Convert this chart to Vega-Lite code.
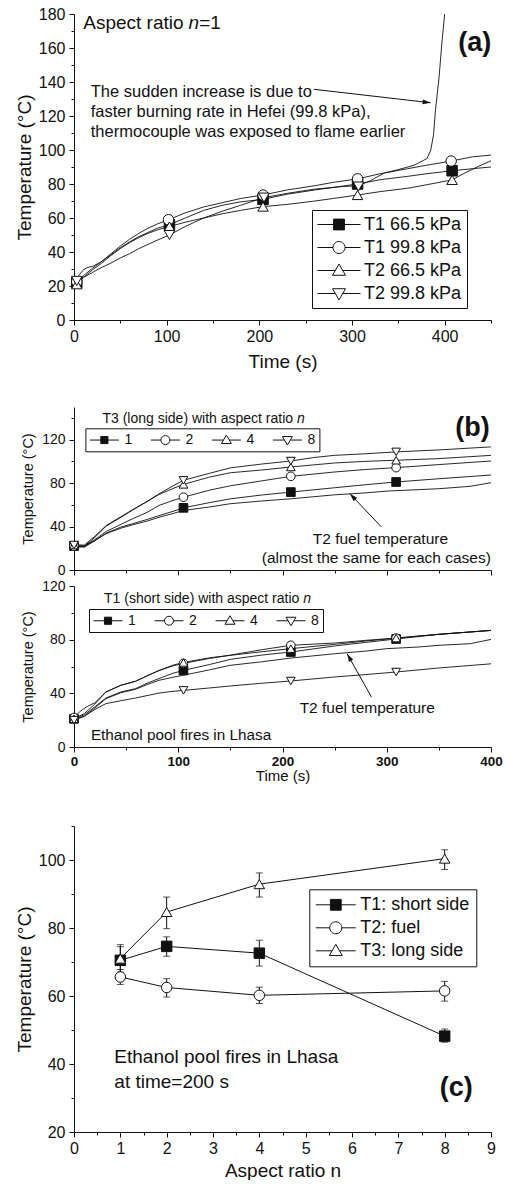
{
  "$schema": "https://vega.github.io/schema/vega-lite/v6.json",
  "padding": {"left": 15, "top": 6, "right": 5, "bottom": 0},
  "spacing": 2,
  "resolve": {"scale": {"shape": "independent", "fill": "independent"}, "legend": {"shape": "independent", "fill": "independent"}},
  "config": {
    "font": "Liberation Sans",
    "view": {"stroke": null},
    "axis": {"domainColor": "#111", "tickColor": "#111", "labelColor": "#111", "titleColor": "#111", "titleFontWeight": "normal", "grid": false, "labelOverlap": false, "labelFlush": false, "domainWidth": 1, "tickWidth": 1, "tickCount": 50},
    "legend": {"labelColor": "#111", "strokeColor": "#111", "cornerRadius": 0},
    "text": {"color": "#111"},
    "line": {"color": "#111", "strokeWidth": 0.9}
  },
  "datasets": {
    "a_lines": [
      {"s":"A","t":0,"T":21},{"s":"A","t":5,"T":23},{"s":"A","t":10,"T":26},{"s":"A","t":20,"T":30.5},{"s":"A","t":30,"T":34.5},{"s":"A","t":40,"T":38.5},{"s":"A","t":50,"T":42.5},{"s":"A","t":60,"T":46},{"s":"A","t":70,"T":49},{"s":"A","t":80,"T":51.5},{"s":"A","t":90,"T":54},{"s":"A","t":103,"T":56},{"s":"A","t":120,"T":60},{"s":"A","t":140,"T":64.5},{"s":"A","t":160,"T":67.5},{"s":"A","t":180,"T":69.5},{"s":"A","t":204,"T":71},{"s":"A","t":230,"T":74},{"s":"A","t":260,"T":76.5},{"s":"A","t":280,"T":78},{"s":"A","t":306,"T":80},{"s":"A","t":330,"T":82.5},{"s":"A","t":360,"T":84.5},{"s":"A","t":380,"T":86},{"s":"A","t":408,"T":87.8},{"s":"A","t":430,"T":89},{"s":"A","t":450,"T":90},
      {"s":"B","t":0,"T":22},{"s":"B","t":5,"T":26},{"s":"B","t":10,"T":29.5},{"s":"B","t":15,"T":31},{"s":"B","t":20,"T":31.5},{"s":"B","t":30,"T":34.5},{"s":"B","t":40,"T":39},{"s":"B","t":50,"T":43.5},{"s":"B","t":60,"T":47.5},{"s":"B","t":70,"T":51},{"s":"B","t":80,"T":54},{"s":"B","t":90,"T":56.5},{"s":"B","t":102,"T":59},{"s":"B","t":120,"T":63},{"s":"B","t":140,"T":66.5},{"s":"B","t":160,"T":69},{"s":"B","t":180,"T":71.5},{"s":"B","t":204,"T":73.5},{"s":"B","t":230,"T":76.5},{"s":"B","t":260,"T":79},{"s":"B","t":280,"T":81},{"s":"B","t":306,"T":83},{"s":"B","t":330,"T":86},{"s":"B","t":360,"T":89},{"s":"B","t":380,"T":91},{"s":"B","t":407,"T":93.5},{"s":"B","t":430,"T":96},{"s":"B","t":450,"T":97},
      {"s":"C","t":0,"T":20},{"s":"C","t":10,"T":25},{"s":"C","t":20,"T":29.5},{"s":"C","t":30,"T":33.5},{"s":"C","t":40,"T":38},{"s":"C","t":50,"T":42},{"s":"C","t":60,"T":45.5},{"s":"C","t":70,"T":48.5},{"s":"C","t":80,"T":51},{"s":"C","t":90,"T":53},{"s":"C","t":103,"T":55},{"s":"C","t":120,"T":57.5},{"s":"C","t":140,"T":60},{"s":"C","t":160,"T":62.5},{"s":"C","t":180,"T":64.5},{"s":"C","t":204,"T":66.7},{"s":"C","t":230,"T":68},{"s":"C","t":260,"T":70},{"s":"C","t":280,"T":71.5},{"s":"C","t":306,"T":73.5},{"s":"C","t":330,"T":75.5},{"s":"C","t":360,"T":77.5},{"s":"C","t":380,"T":79.5},{"s":"C","t":408,"T":82.4},{"s":"C","t":420,"T":86},{"s":"C","t":435,"T":90},{"s":"C","t":450,"T":93.7},
      {"s":"D","t":0,"T":23},{"s":"D","t":10,"T":25},{"s":"D","t":20,"T":28},{"s":"D","t":30,"T":31},{"s":"D","t":40,"T":33.5},{"s":"D","t":50,"T":36.5},{"s":"D","t":60,"T":39},{"s":"D","t":70,"T":42},{"s":"D","t":80,"T":44.5},{"s":"D","t":90,"T":47},{"s":"D","t":103,"T":50},{"s":"D","t":120,"T":55},{"s":"D","t":140,"T":60},{"s":"D","t":160,"T":64},{"s":"D","t":180,"T":67.5},{"s":"D","t":205,"T":72},{"s":"D","t":230,"T":74.5},{"s":"D","t":260,"T":77},{"s":"D","t":290,"T":78.5},{"s":"D","t":307,"T":79},{"s":"D","t":320,"T":82},{"s":"D","t":335,"T":86.5},{"s":"D","t":350,"T":88.5},{"s":"D","t":367,"T":91},{"s":"D","t":381,"T":95},{"s":"D","t":385,"T":100},{"s":"D","t":388,"T":109},{"s":"D","t":390,"T":123},{"s":"D","t":394,"T":143},{"s":"D","t":397,"T":163},{"s":"D","t":400,"T":180}
    ],
    "a_pts": [
      {"s":"T1 66.5 kPa","t":3,"T":22},{"s":"T1 66.5 kPa","t":103,"T":56},{"s":"T1 66.5 kPa","t":204,"T":71},{"s":"T1 66.5 kPa","t":306,"T":80},{"s":"T1 66.5 kPa","t":408,"T":87.8},
      {"s":"T1 99.8 kPa","t":3,"T":22.5},{"s":"T1 99.8 kPa","t":102,"T":59},{"s":"T1 99.8 kPa","t":204,"T":73.5},{"s":"T1 99.8 kPa","t":306,"T":83},{"s":"T1 99.8 kPa","t":407,"T":93.5},
      {"s":"T2 66.5 kPa","t":3,"T":21},{"s":"T2 66.5 kPa","t":103,"T":55},{"s":"T2 66.5 kPa","t":204,"T":66.7},{"s":"T2 66.5 kPa","t":306,"T":73.5},{"s":"T2 66.5 kPa","t":408,"T":82.4},
      {"s":"T2 99.8 kPa","t":3,"T":23},{"s":"T2 99.8 kPa","t":103,"T":50},{"s":"T2 99.8 kPa","t":205,"T":72},{"s":"T2 99.8 kPa","t":307,"T":78.5}
    ],
    "bt_lines": [
      {"s":"1","t":0,"T":22},{"s":"1","t":10,"T":21},{"s":"1","t":20,"T":27},{"s":"1","t":31,"T":34},{"s":"1","t":45,"T":39.5},{"s":"1","t":56,"T":42.5},{"s":"1","t":70,"T":46.5},{"s":"1","t":81.5,"T":50},{"s":"1","t":95,"T":54},{"s":"1","t":105,"T":57.2},{"s":"1","t":130,"T":62},{"s":"1","t":150,"T":65.5},{"s":"1","t":180,"T":69},{"s":"1","t":208,"T":71.7},{"s":"1","t":250,"T":75.7},{"s":"1","t":280,"T":78.5},{"s":"1","t":309,"T":81},{"s":"1","t":350,"T":84},{"s":"1","t":400,"T":87.4},
      {"s":"2","t":0,"T":22},{"s":"2","t":10,"T":22},{"s":"2","t":20,"T":28},{"s":"2","t":31,"T":35.5},{"s":"2","t":45,"T":42},{"s":"2","t":56,"T":47},{"s":"2","t":70,"T":53},{"s":"2","t":81.5,"T":59.4},{"s":"2","t":95,"T":64},{"s":"2","t":105,"T":67},{"s":"2","t":130,"T":73.5},{"s":"2","t":150,"T":77.5},{"s":"2","t":180,"T":82},{"s":"2","t":208,"T":86.2},{"s":"2","t":250,"T":90.2},{"s":"2","t":280,"T":92.5},{"s":"2","t":309,"T":94.2},{"s":"2","t":350,"T":97},{"s":"2","t":400,"T":100.3},
      {"s":"4","t":0,"T":23},{"s":"4","t":10,"T":22},{"s":"4","t":20,"T":30},{"s":"4","t":31,"T":40.5},{"s":"4","t":45,"T":48.5},{"s":"4","t":56,"T":55},{"s":"4","t":70,"T":63},{"s":"4","t":81.5,"T":69.5},{"s":"4","t":95,"T":75},{"s":"4","t":105,"T":78.8},{"s":"4","t":130,"T":85.5},{"s":"4","t":150,"T":89.5},{"s":"4","t":180,"T":92},{"s":"4","t":208,"T":94.8},{"s":"4","t":250,"T":98.5},{"s":"4","t":280,"T":100},{"s":"4","t":309,"T":101},{"s":"4","t":350,"T":102.5},{"s":"4","t":400,"T":105.5},
      {"s":"8","t":0,"T":23},{"s":"8","t":10,"T":23},{"s":"8","t":20,"T":31},{"s":"8","t":31,"T":41},{"s":"8","t":45,"T":49},{"s":"8","t":56,"T":55.4},{"s":"8","t":70,"T":63},{"s":"8","t":81.5,"T":70},{"s":"8","t":95,"T":77.5},{"s":"8","t":105,"T":82.5},{"s":"8","t":130,"T":89},{"s":"8","t":150,"T":94},{"s":"8","t":180,"T":97.5},{"s":"8","t":208,"T":100.3},{"s":"8","t":230,"T":103.5},{"s":"8","t":250,"T":105.5},{"s":"8","t":280,"T":107},{"s":"8","t":309,"T":108.7},{"s":"8","t":350,"T":110.5},{"s":"8","t":400,"T":113.3},
      {"s":"T2","t":0,"T":20},{"s":"T2","t":10,"T":22},{"s":"T2","t":20,"T":27},{"s":"T2","t":31,"T":33.5},{"s":"T2","t":45,"T":38.5},{"s":"T2","t":56,"T":41.5},{"s":"T2","t":70,"T":45},{"s":"T2","t":81.5,"T":48.5},{"s":"T2","t":95,"T":52},{"s":"T2","t":105,"T":54.8},{"s":"T2","t":130,"T":58},{"s":"T2","t":150,"T":61},{"s":"T2","t":180,"T":63.5},{"s":"T2","t":208,"T":65.5},{"s":"T2","t":250,"T":69.2},{"s":"T2","t":280,"T":71},{"s":"T2","t":300,"T":72.6},{"s":"T2","t":350,"T":74.8},{"s":"T2","t":380,"T":77},{"s":"T2","t":400,"T":80.3}
    ],
    "bt_pts": [
      {"s":"1","t":0,"T":22},{"s":"1","t":105,"T":57.2},{"s":"1","t":208,"T":71.7},{"s":"1","t":309,"T":81},
      {"s":"2","t":0,"T":22},{"s":"2","t":105,"T":67},{"s":"2","t":208,"T":86.2},{"s":"2","t":309,"T":94.2},
      {"s":"4","t":0,"T":23},{"s":"4","t":105,"T":78.8},{"s":"4","t":208,"T":94.8},{"s":"4","t":309,"T":101},
      {"s":"8","t":0,"T":23},{"s":"8","t":105,"T":82.5},{"s":"8","t":208,"T":100.3},{"s":"8","t":309,"T":108.7}
    ],
    "bb_lines": [
      {"s":"1","t":0,"T":21},{"s":"1","t":10,"T":24},{"s":"1","t":20,"T":30},{"s":"1","t":30.6,"T":36.5},{"s":"1","t":45,"T":41},{"s":"1","t":59,"T":43.5},{"s":"1","t":70,"T":47.5},{"s":"1","t":81.5,"T":51},{"s":"1","t":95,"T":55},{"s":"1","t":105,"T":57.1},{"s":"1","t":130,"T":61.5},{"s":"1","t":150,"T":65.3},{"s":"1","t":180,"T":68.5},{"s":"1","t":208,"T":70.8},{"s":"1","t":250,"T":75.3},{"s":"1","t":280,"T":78},{"s":"1","t":309,"T":80.5},{"s":"1","t":350,"T":84},{"s":"1","t":400,"T":86.9},
      {"s":"2","t":0,"T":22},{"s":"2","t":5,"T":26},{"s":"2","t":11.7,"T":29.8},{"s":"2","t":20,"T":33},{"s":"2","t":30.6,"T":41},{"s":"2","t":45,"T":46},{"s":"2","t":59,"T":49},{"s":"2","t":70,"T":53},{"s":"2","t":81.5,"T":57},{"s":"2","t":95,"T":60.5},{"s":"2","t":105,"T":62.3},{"s":"2","t":130,"T":66},{"s":"2","t":150,"T":68.5},{"s":"2","t":180,"T":72.5},{"s":"2","t":208,"T":75.8},{"s":"2","t":250,"T":77.5},{"s":"2","t":280,"T":79.5},{"s":"2","t":309,"T":81.2},{"s":"2","t":350,"T":84},{"s":"2","t":400,"T":86.9},
      {"s":"4","t":0,"T":21},{"s":"4","t":10,"T":25},{"s":"4","t":20,"T":32},{"s":"4","t":30.6,"T":41},{"s":"4","t":45,"T":46},{"s":"4","t":59,"T":49},{"s":"4","t":70,"T":53},{"s":"4","t":81.5,"T":57},{"s":"4","t":95,"T":61},{"s":"4","t":105,"T":63},{"s":"4","t":130,"T":66.5},{"s":"4","t":150,"T":68.3},{"s":"4","t":180,"T":71},{"s":"4","t":208,"T":73.3},{"s":"4","t":250,"T":76.5},{"s":"4","t":280,"T":79},{"s":"4","t":309,"T":81.2},{"s":"4","t":350,"T":84},{"s":"4","t":400,"T":86.9},
      {"s":"8","t":0,"T":20},{"s":"8","t":10,"T":23},{"s":"8","t":20,"T":28},{"s":"8","t":30.6,"T":32.3},{"s":"8","t":45,"T":34.5},{"s":"8","t":59,"T":36.5},{"s":"8","t":81.5,"T":40.2},{"s":"8","t":95,"T":41.5},{"s":"8","t":105,"T":42.2},{"s":"8","t":130,"T":44},{"s":"8","t":150,"T":45.5},{"s":"8","t":180,"T":47.5},{"s":"8","t":208,"T":49.2},{"s":"8","t":250,"T":52.2},{"s":"8","t":280,"T":54},{"s":"8","t":309,"T":55.9},{"s":"8","t":350,"T":58.9},{"s":"8","t":400,"T":62},
      {"s":"T2","t":0,"T":20},{"s":"T2","t":10,"T":23},{"s":"T2","t":20,"T":29},{"s":"T2","t":30.6,"T":36},{"s":"T2","t":45,"T":40.5},{"s":"T2","t":59,"T":43},{"s":"T2","t":70,"T":46.5},{"s":"T2","t":81.5,"T":49.7},{"s":"T2","t":95,"T":52},{"s":"T2","t":105,"T":53.5},{"s":"T2","t":130,"T":57.5},{"s":"T2","t":150,"T":60.9},{"s":"T2","t":180,"T":63.5},{"s":"T2","t":208,"T":66.3},{"s":"T2","t":250,"T":69.5},{"s":"T2","t":280,"T":71.5},{"s":"T2","t":300,"T":73.3},{"s":"T2","t":330,"T":74.5},{"s":"T2","t":350,"T":75.8},{"s":"T2","t":380,"T":77},{"s":"T2","t":400,"T":80.2}
    ],
    "bb_pts": [
      {"s":"1","t":0,"T":21},{"s":"1","t":105,"T":57.1},{"s":"1","t":208,"T":70.8},{"s":"1","t":309,"T":80.5},
      {"s":"2","t":0,"T":22},{"s":"2","t":105,"T":62.3},{"s":"2","t":208,"T":75.8},{"s":"2","t":309,"T":81.2},
      {"s":"4","t":0,"T":21},{"s":"4","t":105,"T":63},{"s":"4","t":208,"T":73.3},{"s":"4","t":309,"T":81.2},
      {"s":"8","t":0,"T":20},{"s":"8","t":105,"T":42.2},{"s":"8","t":208,"T":49.2},{"s":"8","t":309,"T":55.9}
    ],
    "c_pts": [
      {"s":"T1: short side","n":1,"T":70.5,"lo":66.5,"hi":74.5},{"s":"T1: short side","n":2,"T":74.6,"lo":71.7,"hi":77.4},{"s":"T1: short side","n":4,"T":72.6,"lo":68.8,"hi":76.4},{"s":"T1: short side","n":8,"T":48.2,"lo":46.4,"hi":50.3},
      {"s":"T2: fuel","n":1,"T":65.6,"lo":63.4,"hi":67.8},{"s":"T2: fuel","n":2,"T":62.5,"lo":59.7,"hi":65.1},{"s":"T2: fuel","n":4,"T":60.2,"lo":57.8,"hi":62.6},{"s":"T2: fuel","n":8,"T":61.5,"lo":58.5,"hi":64.3},
      {"s":"T3: long side","n":1,"T":71,"lo":67,"hi":75.1},{"s":"T3: long side","n":2,"T":84.7,"lo":79.8,"hi":89.1},{"s":"T3: long side","n":4,"T":92.9,"lo":89.1,"hi":96.2},{"s":"T3: long side","n":8,"T":100.4,"lo":97.2,"hi":103}
    ]
  },
  "vconcat": [
    {
      "width": 417, "height": 306,
      "resolve": {"scale": {"shape": "independent", "fill": "independent"}},
      "layer": [
        {"data": {"name": "a_lines"}, "mark": {"type": "line", "clip": true},
         "encoding": {
           "x": {"field": "t", "type": "quantitative", "scale": {"domain": [0, 450], "nice": false, "zero": false},
                 "axis": {"title": "Time (s)", "values": [0,50,100,150,200,250,300,350,400,450], "tickCount": 50, "labelExpr": "datum.value % 100 === 0 ? '' + datum.value : ''", "labelOverlap": false, "tickSize": {"condition": {"test": "datum.value % 100 !== 0", "value": 3}, "value": 5}, "labelFontSize": 16, "titleFontSize": 19, "labelPadding": 3, "titlePadding": 8}},
           "y": {"field": "T", "type": "quantitative", "scale": {"domain": [0, 180], "nice": false},
                 "axis": {"title": "Temperature (°C)", "values": [0,10,20,30,40,50,60,70,80,90,100,110,120,130,140,150,160,170,180], "tickCount": 50, "labelExpr": "datum.value % 20 === 0 ? '' + datum.value : ''", "labelOverlap": false, "tickSize": {"condition": {"test": "datum.value % 20 !== 0", "value": 3}, "value": 5}, "labelFontSize": 16, "titleFontSize": 19, "labelPadding": 4, "titlePadding": 4}},
           "detail": {"field": "s", "type": "nominal"},
           "order": {"field": "t", "type": "quantitative"}
         }},
        {"data": {"name": "a_pts"}, "mark": {"type": "point", "filled": true, "size": 110, "stroke": "#111", "strokeWidth": 1, "opacity": 1},
         "encoding": {
           "x": {"field": "t", "type": "quantitative"},
           "y": {"field": "T", "type": "quantitative"},
           "fill": {"field": "s", "type": "nominal", "scale": {"domain": ["T1 66.5 kPa","T1 99.8 kPa","T2 66.5 kPa","T2 99.8 kPa"], "range": ["#111","white","white","white"]}, "legend": null},
           "shape": {"field": "s", "type": "nominal", "scale": {"domain": ["T1 66.5 kPa","T1 99.8 kPa","T2 66.5 kPa","T2 99.8 kPa"], "range": ["square","circle","triangle-up","triangle-down"]}, "legend": null}
         }},
        {"data": {"values": []}, "mark": {"type": "point", "filled": true, "strokeWidth": 1, "opacity": 1},
         "encoding": {
           "x": {"field": "t", "type": "quantitative"},
           "y": {"field": "T", "type": "quantitative"},
           "stroke": {"value": "#111"},
           "fill": {"field": "s", "type": "nominal", "scale": {"domain": ["T1 66.5 kPa","T1 99.8 kPa","T2 66.5 kPa","T2 99.8 kPa"], "range": ["#111","white","white","white"]},
             "legend": {"title": null, "orient": "none", "legendX": 238, "legendY": 196, "padding": 5, "strokeColor": "#111", "symbolSize": 324, "labelFontSize": 18, "labelOffset": 28, "rowPadding": 4, "symbolStrokeWidth": 1}},
           "shape": {"field": "s", "type": "nominal", "scale": {"domain": ["T1 66.5 kPa","T1 99.8 kPa","T2 66.5 kPa","T2 99.8 kPa"], "range": [
               "M-1,0H3.78M0.789,-0.6H1.989V0.6H0.789Z",
               "M-1,0H0.722M2.056,0H3.78M0.722,0A0.667,0.667,0,1,1,2.056,0A0.667,0.667,0,1,1,0.722,0Z",
               "M-1,0H0.974M1.804,0H3.78M1.389,-0.72L2.109,0.53L0.669,0.53Z",
               "M-1,0H0.974M1.804,0H3.78M1.389,0.72L2.109,-0.53L0.669,-0.53Z"]},
             "legend": {"title": null, "orient": "none", "legendX": 238, "legendY": 196, "padding": 5, "strokeColor": "#111", "symbolSize": 324, "labelFontSize": 18, "labelOffset": 28, "rowPadding": 4, "symbolStrokeWidth": 1}}
         }},
        {"data": {"values": [{}]}, "mark": {"type": "rule", "color": "#111", "strokeWidth": 1},
         "encoding": {"x": {"datum": 258.7}, "y": {"datum": 135.7}, "x2": {"datum": 384.9}, "y2": {"datum": 127.8}}},
        {"data": {"values": [{}]}, "mark": {"type": "point", "shape": "M0,0L-2,-0.6L-2,0.6Z", "size": 64, "angle": 6.5, "filled": true, "color": "#111", "opacity": 1},
         "encoding": {"x": {"datum": 384.9}, "y": {"datum": 127.8}}},
        {"data": {"values": [{}]}, "mark": {"type": "text", "text": "Aspect ratio", "align": "right", "baseline": "middle", "fontSize": 19, "dx": -5},
         "encoding": {"x": {"datum": 123.6}, "y": {"datum": 174.5}}},
        {"data": {"values": [{}]}, "mark": {"type": "text", "text": "n", "align": "left", "baseline": "middle", "fontSize": 19, "fontStyle": "italic"},
         "encoding": {"x": {"datum": 123.6}, "y": {"datum": 174.5}}},
        {"data": {"values": [{}]}, "mark": {"type": "text", "text": "=1", "align": "left", "baseline": "middle", "fontSize": 19, "dx": 10.6},
         "encoding": {"x": {"datum": 123.6}, "y": {"datum": 174.5}}},
        {"data": {"values": [{}]}, "mark": {"type": "text", "text": "The sudden increase is due to", "align": "left", "baseline": "alphabetic", "fontSize": 16.5},
         "encoding": {"x": {"datum": 18.1}, "y": {"datum": 131.2}}},
        {"data": {"values": [{}]}, "mark": {"type": "text", "text": "faster burning rate in Hefei (99.8 kPa),", "align": "left", "baseline": "alphabetic", "fontSize": 16.5},
         "encoding": {"x": {"datum": 18.1}, "y": {"datum": 119.4}}},
        {"data": {"values": [{}]}, "mark": {"type": "text", "text": "thermocouple was exposed to flame earlier", "align": "left", "baseline": "alphabetic", "fontSize": 16.5},
         "encoding": {"x": {"datum": 18.1}, "y": {"datum": 107.6}}},
        {"data": {"values": [{}]}, "mark": {"type": "text", "text": "(a)", "align": "center", "baseline": "middle", "fontSize": 27, "fontWeight": "bold"},
         "encoding": {"x": {"datum": 432.4}, "y": {"datum": 163.2}}}
      ]
    },
    {
      "width": 417, "height": 163,
      "title": {"text": " ", "fontSize": 10, "offset": 24},
      "resolve": {"scale": {"shape": "independent", "fill": "independent"}},
      "layer": [
        {"data": {"name": "bt_lines"}, "mark": {"type": "line", "clip": true},
         "encoding": {
           "x": {"field": "t", "type": "quantitative", "scale": {"domain": [0, 400], "nice": false, "zero": false},
                 "axis": {"title": null, "labels": false, "values": [0,50,100,150,200,250,300,350,400], "tickCount": 50, "tickSize": {"condition": {"test": "datum.value % 100 !== 0", "value": 3}, "value": 5}}},
           "y": {"field": "T", "type": "quantitative", "scale": {"domain": [0, 150], "nice": false},
                 "axis": {"title": "Temperature (°C)", "values": [0,20,40,60,80,100,120,140], "tickCount": 50, "labelExpr": "datum.value % 40 === 0 ? '' + datum.value : ''", "labelOverlap": false, "tickSize": {"condition": {"test": "datum.value % 40 !== 0", "value": 3}, "value": 5}, "labelFontSize": 14, "titleFontSize": 14.5, "labelPadding": 4, "titlePadding": 6}},
           "detail": {"field": "s", "type": "nominal"},
           "order": {"field": "t", "type": "quantitative"}
         }},
        {"data": {"name": "bt_pts"}, "mark": {"type": "point", "filled": true, "size": 75, "stroke": "#111", "strokeWidth": 1, "opacity": 1},
         "encoding": {
           "x": {"field": "t", "type": "quantitative"},
           "y": {"field": "T", "type": "quantitative"},
           "fill": {"field": "s", "type": "nominal", "scale": {"domain": ["1","2","4","8"], "range": ["#111","white","white","white"]}, "legend": null},
           "shape": {"field": "s", "type": "nominal", "scale": {"domain": ["1","2","4","8"], "range": ["square","circle","triangle-up","triangle-down"]}, "legend": null}
         }},
        {"data": {"values": []}, "mark": {"type": "point", "filled": true, "strokeWidth": 1, "opacity": 1},
         "encoding": {
           "x": {"field": "t", "type": "quantitative"},
           "y": {"field": "T", "type": "quantitative"},
           "stroke": {"value": "#111"},
           "fill": {"field": "s", "type": "nominal", "scale": {"domain": ["1","2","4","8"], "range": ["#111","white","white","white"]},
             "legend": {"title": null, "orient": "none", "legendX": 11.4, "legendY": 21.3, "direction": "horizontal", "columns": 4, "columnPadding": 16, "padding": 4, "strokeColor": "#111", "symbolSize": 196, "labelFontSize": 14, "labelOffset": 20, "symbolStrokeWidth": 1}},
           "shape": {"field": "s", "type": "nominal", "scale": {"domain": ["1","2","4","8"], "range": [
               "M-1,0H3.14M0.561,-0.51H1.581V0.51H0.561Z",
               "M-1,0H0.431M1.711,0H3.14M0.431,0A0.64,0.64,0,1,1,1.711,0A0.64,0.64,0,1,1,0.431,0Z",
               "M-1,0H0.654M1.488,0H3.14M1.071,-0.71L1.781,0.5L0.361,0.5Z",
               "M-1,0H0.654M1.488,0H3.14M1.071,0.71L1.781,-0.5L0.361,-0.5Z"]},
             "legend": {"title": null, "orient": "none", "legendX": 11.4, "legendY": 21.3, "direction": "horizontal", "columns": 4, "columnPadding": 16, "padding": 4, "strokeColor": "#111", "symbolSize": 196, "labelFontSize": 14, "labelOffset": 20, "symbolStrokeWidth": 1}}
         }},
        {"data": {"values": [{}]}, "mark": {"type": "rule", "color": "#111", "strokeWidth": 1},
         "encoding": {"x": {"datum": 294.8}, "y": {"datum": 39.7}, "x2": {"datum": 264.6}, "y2": {"datum": 70.2}}},
        {"data": {"values": [{}]}, "mark": {"type": "point", "shape": "M0,0L-2,-0.6L-2,0.6Z", "size": 64, "angle": 226.4, "filled": true, "color": "#111", "opacity": 1},
         "encoding": {"x": {"datum": 264.6}, "y": {"datum": 70.2}}},
        {"data": {"values": [{}]}, "mark": {"type": "text", "text": "T3 (long side) with aspect ratio", "align": "right", "baseline": "middle", "fontSize": 14, "dx": -4},
         "encoding": {"x": {"datum": 214}, "y": {"datum": 139.4}}},
        {"data": {"values": [{}]}, "mark": {"type": "text", "text": "n", "align": "left", "baseline": "middle", "fontSize": 14, "fontStyle": "italic"},
         "encoding": {"x": {"datum": 214}, "y": {"datum": 139.4}}},
        {"data": {"values": [{}]}, "mark": {"type": "text", "text": "T2 fuel temperature", "align": "center", "baseline": "middle", "fontSize": 15.5},
         "encoding": {"x": {"datum": 293.9}, "y": {"datum": 28.6}}},
        {"data": {"values": [{}]}, "mark": {"type": "text", "text": "(almost the same for each cases)", "align": "center", "baseline": "middle", "fontSize": 15.5},
         "encoding": {"x": {"datum": 290}, "y": {"datum": 11.2}}},
        {"data": {"values": [{}]}, "mark": {"type": "text", "text": "(b)", "align": "center", "baseline": "middle", "fontSize": 27, "fontWeight": "bold"},
         "encoding": {"x": {"datum": 382.3}, "y": {"datum": 131.1}}}
      ]
    },
    {
      "width": 417, "height": 161,
      "resolve": {"scale": {"shape": "independent", "fill": "independent"}},
      "layer": [
        {"data": {"name": "bb_lines"}, "mark": {"type": "line", "clip": true},
         "encoding": {
           "x": {"field": "t", "type": "quantitative", "scale": {"domain": [0, 400], "nice": false, "zero": false},
                 "axis": {"title": "Time (s)", "values": [0,50,100,150,200,250,300,350,400], "tickCount": 50, "labelExpr": "datum.value % 100 === 0 ? '' + datum.value : ''", "labelOverlap": false, "tickSize": {"condition": {"test": "datum.value % 100 !== 0", "value": 3}, "value": 5}, "labelFontSize": 13.5, "labelFontWeight": "bold", "titleFontSize": 15, "labelPadding": 2, "titlePadding": 1}},
           "y": {"field": "T", "type": "quantitative", "scale": {"domain": [0, 120], "nice": false},
                 "axis": {"title": "Temperature (°C)", "values": [0,20,40,60,80,100,120], "tickCount": 50, "labelExpr": "datum.value % 40 === 0 ? '' + datum.value : ''", "labelOverlap": false, "tickSize": {"condition": {"test": "datum.value % 40 !== 0", "value": 3}, "value": 5}, "labelFontSize": 14, "titleFontSize": 14.5, "labelPadding": 4, "titlePadding": 6}},
           "detail": {"field": "s", "type": "nominal"},
           "order": {"field": "t", "type": "quantitative"}
         }},
        {"data": {"name": "bb_pts"}, "mark": {"type": "point", "filled": true, "size": 75, "stroke": "#111", "strokeWidth": 1, "opacity": 1},
         "encoding": {
           "x": {"field": "t", "type": "quantitative"},
           "y": {"field": "T", "type": "quantitative"},
           "fill": {"field": "s", "type": "nominal", "scale": {"domain": ["1","2","4","8"], "range": ["#111","white","white","white"]}, "legend": null},
           "shape": {"field": "s", "type": "nominal", "scale": {"domain": ["1","2","4","8"], "range": ["square","circle","triangle-up","triangle-down"]}, "legend": null}
         }},
        {"data": {"values": []}, "mark": {"type": "point", "filled": true, "strokeWidth": 1, "opacity": 1},
         "encoding": {
           "x": {"field": "t", "type": "quantitative"},
           "y": {"field": "T", "type": "quantitative"},
           "stroke": {"value": "#111"},
           "fill": {"field": "s", "type": "nominal", "scale": {"domain": ["1","2","4","8"], "range": ["#111","white","white","white"]},
             "legend": {"title": null, "orient": "none", "legendX": 15, "legendY": 23, "direction": "horizontal", "columns": 4, "columnPadding": 16, "padding": 4, "strokeColor": "#111", "symbolSize": 196, "labelFontSize": 14, "labelOffset": 20, "symbolStrokeWidth": 1}},
           "shape": {"field": "s", "type": "nominal", "scale": {"domain": ["1","2","4","8"], "range": [
               "M-1,0H3.14M0.561,-0.51H1.581V0.51H0.561Z",
               "M-1,0H0.431M1.711,0H3.14M0.431,0A0.64,0.64,0,1,1,1.711,0A0.64,0.64,0,1,1,0.431,0Z",
               "M-1,0H0.654M1.488,0H3.14M1.071,-0.71L1.781,0.5L0.361,0.5Z",
               "M-1,0H0.654M1.488,0H3.14M1.071,0.71L1.781,-0.5L0.361,-0.5Z"]},
             "legend": {"title": null, "orient": "none", "legendX": 15, "legendY": 23, "direction": "horizontal", "columns": 4, "columnPadding": 16, "padding": 4, "strokeColor": "#111", "symbolSize": 196, "labelFontSize": 14, "labelOffset": 20, "symbolStrokeWidth": 1}}
         }},
        {"data": {"values": [{}]}, "mark": {"type": "rule", "color": "#111", "strokeWidth": 1},
         "encoding": {"x": {"datum": 285.3}, "y": {"datum": 37.3}, "x2": {"datum": 262}, "y2": {"datum": 69.5}}},
        {"data": {"values": [{}]}, "mark": {"type": "point", "shape": "M0,0L-2,-0.6L-2,0.6Z", "size": 64, "angle": 240.6, "filled": true, "color": "#111", "opacity": 1},
         "encoding": {"x": {"datum": 262}, "y": {"datum": 69.5}}},
        {"data": {"values": [{}]}, "mark": {"type": "text", "text": "T1 (short side) with aspect ratio", "align": "right", "baseline": "middle", "fontSize": 14, "dx": -4},
         "encoding": {"x": {"datum": 220}, "y": {"datum": 110.5}}},
        {"data": {"values": [{}]}, "mark": {"type": "text", "text": "n", "align": "left", "baseline": "middle", "fontSize": 14, "fontStyle": "italic"},
         "encoding": {"x": {"datum": 220}, "y": {"datum": 110.5}}},
        {"data": {"values": [{}]}, "mark": {"type": "text", "text": "T2 fuel temperature", "align": "center", "baseline": "middle", "fontSize": 15.5},
         "encoding": {"x": {"datum": 281.3}, "y": {"datum": 29.3}}},
        {"data": {"values": [{}]}, "mark": {"type": "text", "text": "Ethanol pool fires in Lhasa", "align": "left", "baseline": "middle", "fontSize": 15.3},
         "encoding": {"x": {"datum": 16.2}, "y": {"datum": 9.3}}}
      ]
    },
    {
      "width": 417, "height": 306,
      "title": {"text": " ", "fontSize": 10, "offset": 22},
      "resolve": {"scale": {"shape": "independent", "fill": "independent"}},
      "layer": [
        {"data": {"name": "c_pts"}, "mark": {"type": "line", "color": "#111", "strokeWidth": 1},
         "encoding": {
           "x": {"field": "n", "type": "quantitative", "scale": {"domain": [0, 9], "nice": false, "zero": false},
                 "axis": {"title": "Aspect ratio n", "values": [0,0.5,1,1.5,2,2.5,3,3.5,4,4.5,5,5.5,6,6.5,7,7.5,8,8.5,9], "tickCount": 50, "labelExpr": "datum.value % 1 === 0 ? '' + datum.value : ''", "labelOverlap": false, "tickSize": {"condition": {"test": "datum.value % 1 !== 0", "value": 3}, "value": 5}, "labelFontSize": 16, "titleFontSize": 19, "labelPadding": 3, "titlePadding": 5}},
           "y": {"field": "T", "type": "quantitative", "scale": {"domain": [20, 110], "nice": false, "zero": false},
                 "axis": {"title": "Temperature (°C)", "values": [20,30,40,50,60,70,80,90,100,110], "tickCount": 50, "labelExpr": "datum.value % 20 === 0 ? '' + datum.value : ''", "labelOverlap": false, "tickSize": {"condition": {"test": "datum.value % 20 !== 0", "value": 3}, "value": 5}, "labelFontSize": 16, "titleFontSize": 19, "labelPadding": 4, "titlePadding": 4}},
           "detail": {"field": "s", "type": "nominal"},
           "order": {"field": "n", "type": "quantitative"}
         }},
        {"data": {"name": "c_pts"}, "mark": {"type": "errorbar", "color": "#111", "ticks": {"size": 7}},
         "encoding": {
           "x": {"field": "n", "type": "quantitative"},
           "y": {"field": "lo", "type": "quantitative", "title": "Temperature (°C)"},
           "y2": {"field": "hi"}
         }},
        {"data": {"name": "c_pts"}, "mark": {"type": "point", "filled": true, "size": 110, "stroke": "#111", "strokeWidth": 1, "opacity": 1},
         "encoding": {
           "x": {"field": "n", "type": "quantitative"},
           "y": {"field": "T", "type": "quantitative"},
           "fill": {"field": "s", "type": "nominal", "scale": {"domain": ["T1: short side","T2: fuel","T3: long side"], "range": ["#111","white","white"]}, "legend": null},
           "shape": {"field": "s", "type": "nominal", "scale": {"domain": ["T1: short side","T2: fuel","T3: long side"], "range": ["square","circle","triangle-up"]}, "legend": null}
         }},
        {"data": {"values": []}, "mark": {"type": "point", "filled": true, "strokeWidth": 1, "opacity": 1},
         "encoding": {
           "x": {"field": "n", "type": "quantitative"},
           "y": {"field": "T", "type": "quantitative"},
           "stroke": {"value": "#111"},
           "fill": {"field": "s", "type": "nominal", "scale": {"domain": ["T1: short side","T2: fuel","T3: long side"], "range": ["#111","white","white"]},
             "legend": {"title": null, "orient": "none", "legendX": 235.3, "legendY": 63.3, "padding": 6, "strokeColor": "#111", "symbolSize": 324, "labelFontSize": 18, "labelOffset": 26, "rowPadding": 4, "symbolStrokeWidth": 1}},
           "shape": {"field": "s", "type": "nominal", "scale": {"domain": ["T1: short side","T2: fuel","T3: long side"], "range": [
               "M-1,0H3.44M0.622,-0.6H1.822V0.6H0.622Z",
               "M-1,0H0.555M1.889,0H3.44M0.555,0A0.667,0.667,0,1,1,1.889,0A0.667,0.667,0,1,1,0.555,0Z",
               "M-1,0H0.807M1.637,0H3.44M1.222,-0.72L1.942,0.53L0.502,0.53Z"]},
             "legend": {"title": null, "orient": "none", "legendX": 235.3, "legendY": 63.3, "padding": 6, "strokeColor": "#111", "symbolSize": 324, "labelFontSize": 18, "labelOffset": 26, "rowPadding": 4, "symbolStrokeWidth": 1}}
         }},
        {"data": {"values": [{}]}, "mark": {"type": "text", "text": "Ethanol pool fires in Lhasa", "align": "left", "baseline": "middle", "fontSize": 19},
         "encoding": {"x": {"datum": 0.87}, "y": {"datum": 42}}},
        {"data": {"values": [{}]}, "mark": {"type": "text", "text": "at time=200 s", "align": "left", "baseline": "middle", "fontSize": 19},
         "encoding": {"x": {"datum": 0.87}, "y": {"datum": 34.7}}},
        {"data": {"values": [{}]}, "mark": {"type": "text", "text": "(c)", "align": "center", "baseline": "middle", "fontSize": 27, "fontWeight": "bold"},
         "encoding": {"x": {"datum": 8.25}, "y": {"datum": 33}}}
      ]
    }
  ]
}
